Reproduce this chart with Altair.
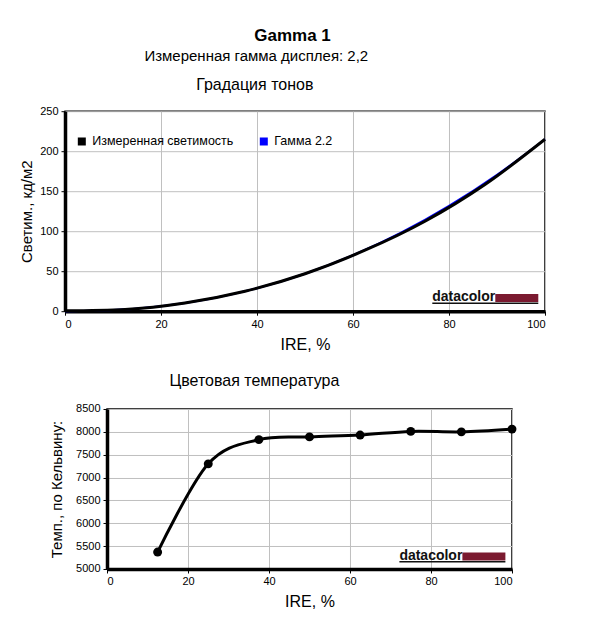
import altair as alt
import pandas as pd

FONT = "Liberation Sans"

# ---- Top chart: tone gradation ----
ire_meas = [0, 12.5, 25, 37.5, 50, 62.5, 75, 87.5, 100]
lum_meas = [0.4, 2.2, 10.2, 24.9, 46.8, 76.2, 112.5, 158.5, 215.0]
ire_gamma = [0, 10, 20, 30, 40, 50, 60, 70, 80, 90, 100]
lum_gamma = [0.0, 1.4, 6.2, 15.2, 28.6, 46.8, 69.9, 98.1, 131.6, 170.5, 215.0]
series_names = ["Измеренная светимость", "Гамма 2.2"]
series_colors = ["#000000", "#0000ff"]
x_ticks = [0, 20, 40, 60, 80, 100]
lum_ticks = [0, 50, 100, 150, 200, 250]

# ---- Bottom chart: colour temperature ----
ire_temp = [12.5, 25, 37.5, 50, 62.5, 75, 87.5, 100]
temp_k = [5370, 7300, 7830, 7890, 7930, 8010, 8000, 8060]
temp_ticks = [5000, 5500, 6000, 6500, 7000, 7500, 8000, 8500]

main_title = "Gamma 1"
sub_title = "Измеренная гамма дисплея: 2,2"
top_title = "Градация тонов"
bottom_title = "Цветовая температура"
x_title = "IRE, %"
top_y_title = "Светим., кд/м2"
bottom_y_title = "Темп., по Кельвину:"
logo_text = "datacolor"


def label(text, x, y, size, weight="normal", align="center"):
    return alt.Chart(pd.DataFrame({"t": [text]})).mark_text(
        font=FONT, fontSize=size, fontWeight=weight, align=align,
        baseline="middle", color="#000000"
    ).encode(text="t:N", x=alt.value(x), y=alt.value(y))


def legend_entry(name, color, x, y):
    sq = alt.Chart(pd.DataFrame({"s": [name]})).mark_square(
        size=64, color=color, opacity=1, filled=True
    ).encode(x=alt.value(x), y=alt.value(y))
    return [sq, label(name, x + 10.5, y, 12.5, align="left")]


def logo(x, y):
    t = alt.Chart(pd.DataFrame({"t": [logo_text]})).mark_text(
        font=FONT, fontSize=14, fontWeight="bold", align="left",
        baseline="alphabetic", color="#111111"
    ).encode(text="t:N", x=alt.value(x), y=alt.value(y))
    bar = alt.Chart(pd.DataFrame({"t": [0]})).mark_rect(color="#7b1a30").encode(
        x=alt.value(x + 63), x2=alt.value(x + 106),
        y=alt.value(y - 7.5), y2=alt.value(y + 0.5))
    under = alt.Chart(pd.DataFrame({"t": [0]})).mark_rule(color="#111111", strokeWidth=1.5).encode(
        x=alt.value(x), x2=alt.value(x + 106), y=alt.value(y + 1.8))
    return [t, bar, under]


def spacer(x):
    return alt.Chart(pd.DataFrame({"t": [0]})).mark_rule(color="#ffffff", strokeWidth=1).encode(
        x=alt.value(x), y=alt.value(80), y2=alt.value(81))


def blank():
    return alt.Chart(pd.DataFrame({"t": [0]})).mark_rule(color="#ffffff", strokeWidth=1).encode(
        x=alt.value(0.5), y=alt.value(0), y2=alt.value(1)
    ).properties(width=1, height=1, view=alt.ViewBackground(strokeOpacity=0))


color_scale = alt.Scale(domain=series_names, range=series_colors)

meas_df = pd.DataFrame({"ire": ire_meas, "lum": lum_meas, "series": series_names[0]})
gamma_df = pd.DataFrame({"ire": ire_gamma, "lum": lum_gamma, "series": series_names[1]})

x_top = alt.X("ire:Q", scale=alt.Scale(domain=[0, 100], nice=False),
              axis=alt.Axis(values=x_ticks, title=x_title))
y_top = alt.Y("lum:Q", scale=alt.Scale(domain=[0, 250], nice=False),
              axis=alt.Axis(values=lum_ticks, title=top_y_title, titlePadding=5,
                            titleFontSize=15))
col = alt.Color("series:N", scale=color_scale, legend=None)

gamma_line = alt.Chart(gamma_df).mark_line(strokeWidth=2, interpolate="monotone").encode(
    x=x_top, y=y_top, color=col)
meas_line = alt.Chart(meas_df).mark_line(strokeWidth=3, interpolate="monotone").encode(
    x=x_top, y=y_top, color=col)

top = alt.layer(
    gamma_line, meas_line, spacer(-50),
    *legend_entry(series_names[0], series_colors[0], 16.8, 30.3),
    *legend_entry(series_names[1], series_colors[1], 198.8, 30.3),
    label(main_title, 227.5, -74.7, 17, "bold"),
    label(sub_title, 191.3, -54.7, 15),
    label(top_title, 189.8, -25.7, 16),
    *logo(367.3, 190.3),
).properties(width=480, height=200)

# ---- bottom ----
temp_df = pd.DataFrame({"ire": ire_temp, "temp": temp_k})
x_b = alt.X("ire:Q", scale=alt.Scale(domain=[0, 100], nice=False),
            axis=alt.Axis(values=x_ticks, title=x_title))
y_b = alt.Y("temp:Q", scale=alt.Scale(domain=[5000, 8500], nice=False),
            axis=alt.Axis(values=temp_ticks, format="d", title=bottom_y_title,
                          titlePadding=11, titleFontSize=15))

t_line = alt.Chart(temp_df).mark_line(color="#000000", strokeWidth=3, interpolate="cardinal").encode(
    x=x_b, y=y_b)
t_pts = alt.Chart(temp_df).mark_circle(color="#000000", size=80, opacity=1).encode(
    x=x_b, y=y_b)

bottom = alt.layer(
    t_line, t_pts, spacer(-92.6),
    label(bottom_title, 147.4, -28, 16),
    *logo(292.4, 151),
).properties(width=405, height=160)

chart = alt.vconcat(
    alt.hconcat(blank(), top, spacing=0),
    alt.hconcat(blank(), bottom, spacing=0),
    spacing=18.8,
).properties(
    padding={"left": 4, "top": 18.2, "right": 5, "bottom": 5}
).configure_axis(
    labelFont=FONT, titleFont=FONT, labelFontSize=11, titleFontSize=16,
    titleFontWeight="normal", labelColor="#000000", titleColor="#000000",
    gridColor="#c0c0c0", gridWidth=1, domainColor="#000000", domainWidth=3.5,
    tickColor="#000000", tickSize=4, labelPadding=3, titlePadding=7,
).configure_view(stroke="#000000", strokeWidth=1.5)

chart.save("out.html", embed_options={"renderer": "svg", "actions": False})
